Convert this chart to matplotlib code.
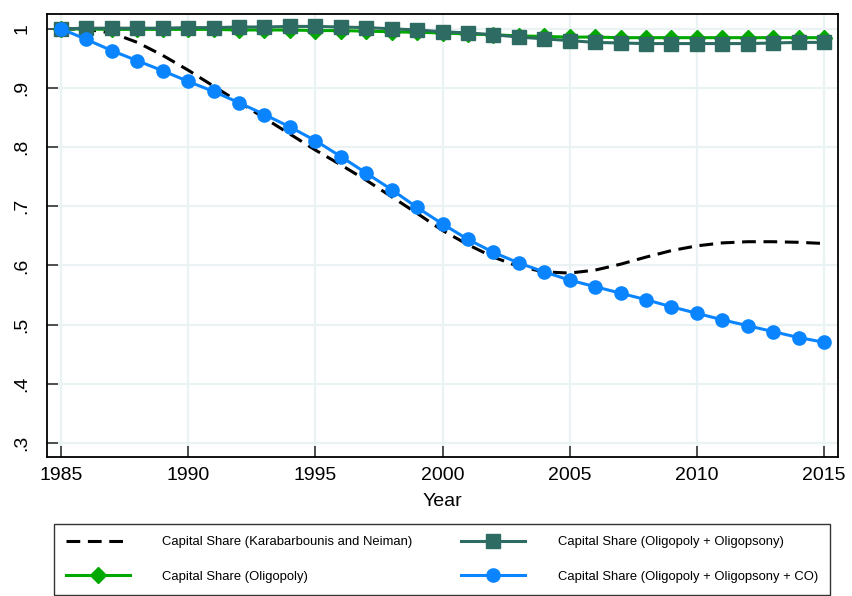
import matplotlib.pyplot as plt
import numpy as np

plt.rcParams['font.family'] = ['Liberation Sans', 'DejaVu Sans']

years = np.arange(1985, 2016)

# Capital share series
share_kn = [1.000, 0.999, 0.993, 0.977, 0.955, 0.930, 0.903, 0.876, 0.849, 0.822,
            0.795, 0.770, 0.744, 0.716, 0.688, 0.659, 0.635, 0.614, 0.598, 0.589,
            0.587, 0.592, 0.602, 0.614, 0.625, 0.633, 0.638, 0.640, 0.640, 0.639,
            0.637]
share_oligopoly = [1.000, 0.9995, 0.999, 0.999, 0.999, 0.999, 0.999, 0.998, 0.998, 0.998,
                   0.997, 0.997, 0.996, 0.995, 0.994, 0.993, 0.991, 0.990, 0.988, 0.987,
                   0.986, 0.986, 0.985, 0.985, 0.985, 0.985, 0.985, 0.985, 0.985, 0.985,
                   0.985]
share_oligopsony = [1.000, 1.001, 1.001, 1.001, 1.001, 1.002, 1.002, 1.003, 1.003, 1.004,
                    1.004, 1.003, 1.002, 1.000, 0.998, 0.995, 0.993, 0.990, 0.986, 0.983,
                    0.980, 0.977, 0.976, 0.975, 0.975, 0.975, 0.975, 0.975, 0.976, 0.977,
                    0.977]
share_co = [1.000, 0.982, 0.963, 0.946, 0.929, 0.911, 0.894, 0.875, 0.855, 0.834,
            0.811, 0.784, 0.756, 0.728, 0.698, 0.670, 0.644, 0.622, 0.604, 0.589,
            0.575, 0.564, 0.553, 0.542, 0.530, 0.519, 0.508, 0.498, 0.488, 0.478,
            0.470]

labels = ["Capital Share (Karabarbounis and Neiman)",
          "Capital Share (Oligopoly)",
          "Capital Share (Oligopoly + Oligopsony)",
          "Capital Share (Oligopoly + Oligopsony + CO)"]

yticks = [0.3, 0.4, 0.5, 0.6, 0.7, 0.8, 0.9, 1.0]
ytick_labels = [".3", ".4", ".5", ".6", ".7", ".8", ".9", "1"]
xticks = [1985, 1990, 1995, 2000, 2005, 2010, 2015]

fig = plt.figure(figsize=(8.52, 5.96), dpi=100)
ax = fig.add_axes([0.0552, 0.2332, 0.9284, 0.7433])

l_kn, = ax.plot(years, share_kn, color="black", lw=2.2, ls=(0, (4.5, 2.5)), zorder=3)
l_ol, = ax.plot(years, share_oligopoly, color="#00A800", lw=2.2, marker="D",
                markersize=8, zorder=4)
l_os, = ax.plot(years, share_oligopsony, color="#2E6B63", lw=2.2, marker="s",
                markersize=9.5, zorder=5)
l_co, = ax.plot(years, share_co, color="#0A85FF", lw=2.2, marker="o",
                markersize=9.5, zorder=6)

ax.set_xlim(1984.45, 2015.55)
ax.set_ylim(0.276, 1.025)
ax.set_xticks(xticks)
ax.set_yticks(yticks)
ax.set_yticklabels(ytick_labels, rotation=90, va="center")
ax.tick_params(direction="in", length=8, width=1.2, labelsize=14, color="#333333")
ax.tick_params(axis="y", pad=12)
ax.tick_params(axis="x", pad=7.5)
ax.grid(True, color="#EAF2F3", lw=1.6)
ax.set_axisbelow(True)
for s in ax.spines.values():
    s.set_linewidth(1.3)
    s.set_color("black")
ax.set_xlabel("Year", fontsize=14, labelpad=6)

fig.legend([l_kn, l_ol, l_os, l_co], labels, ncol=2, loc="lower left",
           bbox_to_anchor=(0.0634, 0.002, 0.9106, 0.119), mode="expand",
           borderaxespad=0, fontsize=9.4, handlelength=4.9, handletextpad=2.5,
           labelspacing=1.75, fancybox=False, edgecolor="#333333",
           framealpha=1, borderpad=0.9)

plt.savefig("out.png")
